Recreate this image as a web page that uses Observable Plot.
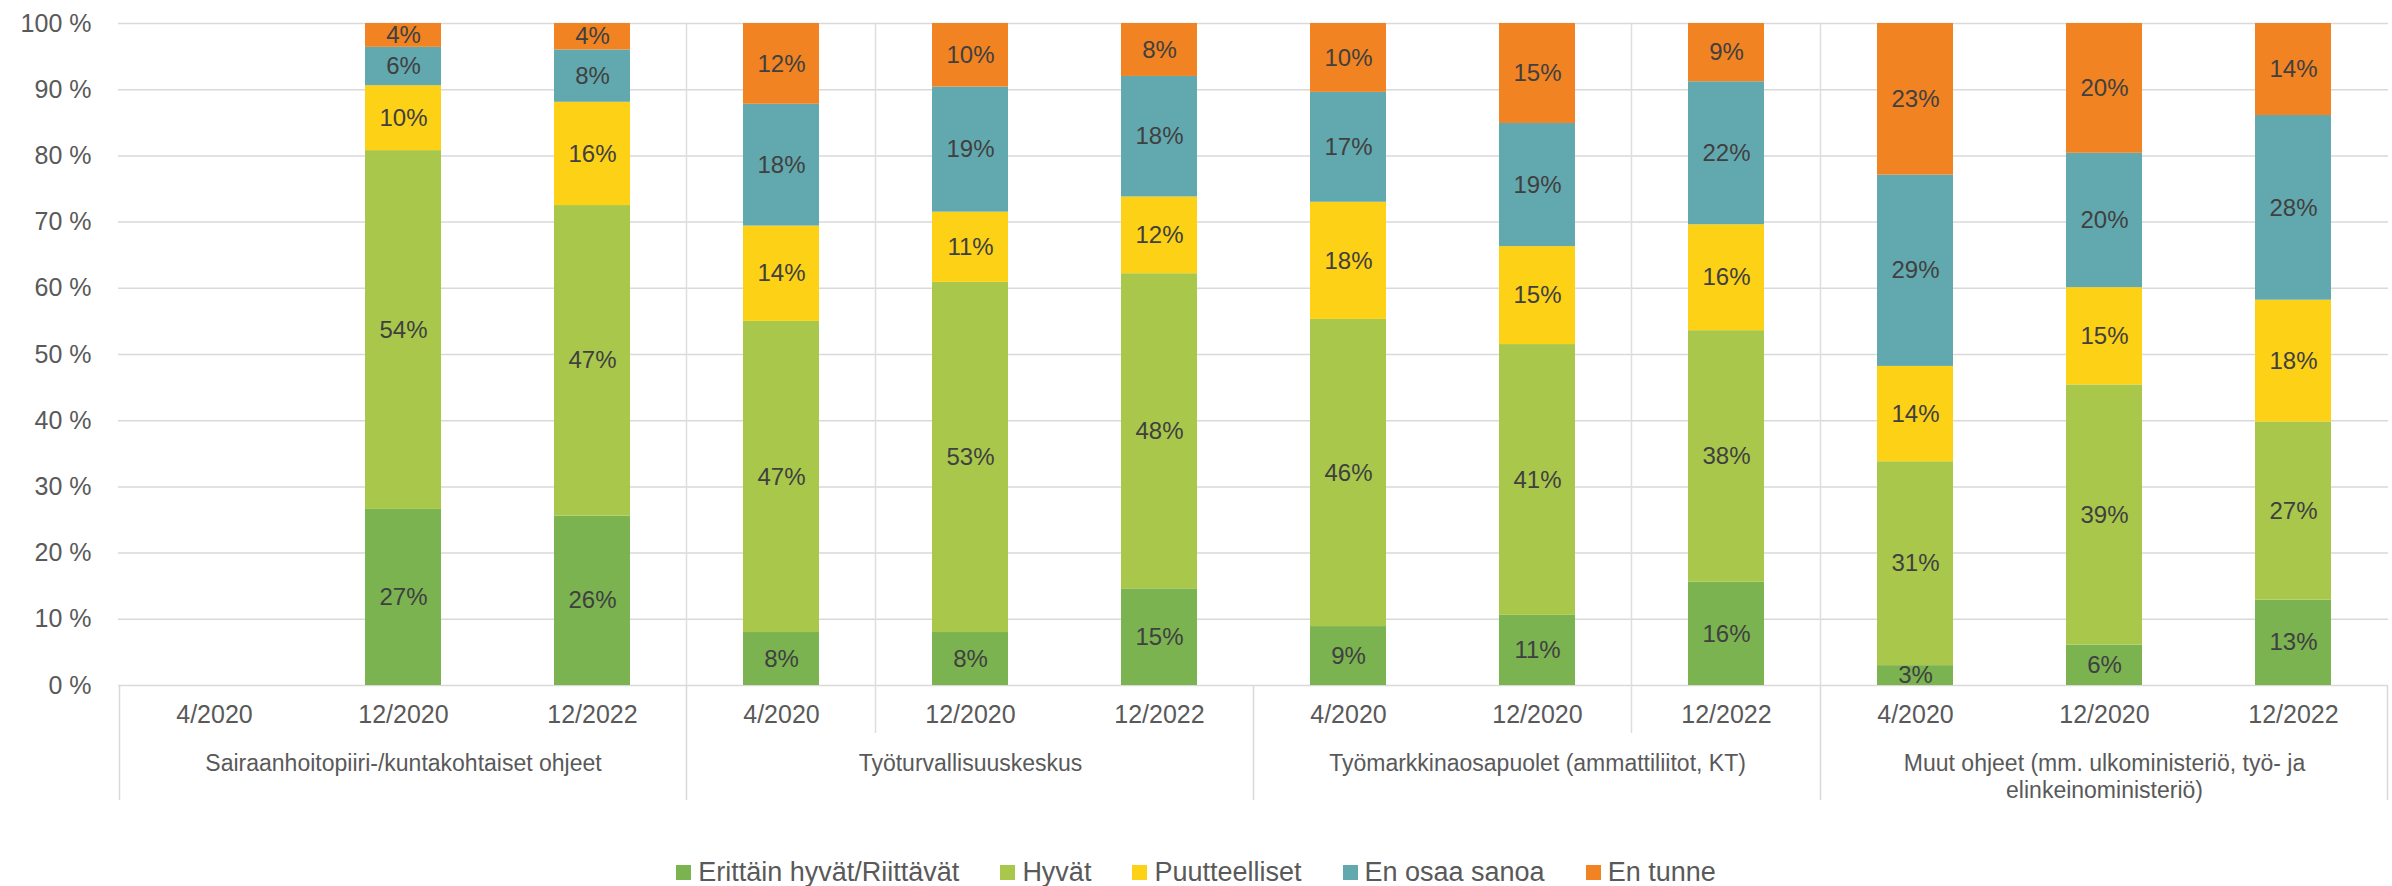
<!DOCTYPE html>
<html>
<head>
<meta charset="utf-8">
<script src="https://cdn.jsdelivr.net/npm/d3@7"></script>
<script src="https://cdn.jsdelivr.net/npm/@observablehq/plot@0.6"></script>
<style>
  html, body { margin: 0; padding: 0; background: #fff; overflow: hidden; }
  #chart { width: 2392px; }
  .legend { display: flex; justify-content: center; align-items: center; height: 44px;
    font-family: "Liberation Sans", Arial, sans-serif; font-size: 27px; color: #595959; }
  .legend .item { display: flex; align-items: center; margin-right: 41px; }
  .legend .item:last-child { margin-right: 0; }
  .legend .sw { width: 15px; height: 15px; margin-right: 7px; }
</style>
</head>
<body>
<div id="chart"></div>
<script>
// ---- data ----
const groups = [
  "Sairaanhoitopiiri-/kuntakohtaiset ohjeet",
  "Työturvallisuuskeskus",
  "Työmarkkinaosapuolet (ammattiliitot, KT)",
  "Muut ohjeet (mm. ulkoministeriö, työ- ja\nelinkeinoministeriö)"
];
const periods = ["4/2020", "12/2020", "12/2022"];
const series = ["Erittäin hyvät/Riittävät", "Hyvät", "Puutteelliset", "En osaa sanoa", "En tunne"];
const colors = ["#7AB350", "#A9C84B", "#FDD116", "#62A9AF", "#F28322"];

// values per slot: group-major, period-minor (12 slots)
const erittainHyvat = [null, 26.6, 25.6, 8.0, 8.0, 14.6, 8.9, 10.6, 15.6, 3.0, 6.1, 12.9];
const hyvat         = [null, 54.2, 46.9, 47.0, 52.9, 47.6, 46.4, 40.9, 38.0, 30.8, 39.3, 26.9];
const puutteelliset = [null, 9.8, 15.6, 14.4, 10.6, 11.6, 17.7, 14.8, 16.0, 14.4, 14.7, 18.4];
const enOsaaSanoa   = [null, 5.8, 7.9, 18.4, 18.9, 18.2, 16.6, 18.6, 21.6, 28.9, 20.3, 27.9];
const enTunne       = [null, 3.6, 4.0, 12.2, 9.6, 8.0, 10.4, 15.1, 8.8, 22.9, 19.6, 13.9];

const yTicks = [0, 10, 20, 30, 40, 50, 60, 70, 80, 90, 100];
// category-boundary indices used by the original chart's separators
const plotGridBoundaries = [3, 4, 8, 9];
const shortTickBoundaries = [4, 8];
const groupBoundaries = [0, 3, 6, 9, 12];

// ---- build table ----
const seriesValues = [erittainHyvat, hyvat, puutteelliset, enOsaaSanoa, enTunne];
const keys = groups.flatMap((g, gi) => periods.map(p => `${gi}|${p}`));
const rows = [];
series.forEach((s, si) => {
  seriesValues[si].forEach((v, i) => {
    if (v != null) rows.push({key: keys[i], series: s, value: v});
  });
});
const groupRows = groups.map((g, gi) => ({label: g, key: keys[gi * periods.length + 1]}));

const FONT = "'Liberation Sans', Arial, sans-serif";

function separators(index, scales) {
  const x = scales.x, y = scales.y;
  const bw = typeof x.bandwidth === "function" ? x.bandwidth() : x.bandwidth;
  const step = typeof x.step === "function" ? x.step() : (x(keys[1]) - x(keys[0]));
  const edge = i => i < keys.length
    ? x(keys[i]) + bw / 2 - step / 2
    : x(keys[keys.length - 1]) + bw / 2 + step / 2;
  const g = d3.create("svg:g");
  const y0 = y(0), y100 = y(100);
  plotGridBoundaries.forEach(i => g.append("line")
    .attr("x1", edge(i)).attr("x2", edge(i)).attr("y1", y100).attr("y2", y0)
    .attr("stroke", "#DEDEDE").attr("stroke-width", 1.5));
  shortTickBoundaries.forEach(i => g.append("line")
    .attr("x1", edge(i)).attr("x2", edge(i)).attr("y1", y0).attr("y2", y0 + 48)
    .attr("stroke", "#DEDEDE").attr("stroke-width", 1.5));
  groupBoundaries.forEach(i => g.append("line")
    .attr("x1", edge(i)).attr("x2", edge(i)).attr("y1", y0).attr("y2", y0 + 115)
    .attr("stroke", "#D9D9D9").attr("stroke-width", 1.5));
  return g.node();
}

const chart = Plot.plot({
  width: 2392,
  height: 850,
  marginLeft: 118,
  marginRight: 4,
  marginTop: 23,
  marginBottom: 165,
  style: {fontFamily: FONT, background: "#fff"},
  x: {domain: keys, paddingInner: 0.6, paddingOuter: 0.3, label: null},
  y: {domain: [0, 100], label: null},
  color: {domain: series, range: colors},
  marks: [
    Plot.gridY(yTicks, {stroke: "#D9D9D9", strokeOpacity: 1, strokeWidth: 1.5}),
    separators,
    Plot.barY(rows, {x: "key", y: "value", fill: "series"}),
    Plot.text(rows, Plot.stackY({
      x: "key", y: "value", z: "series",
      text: d => Math.round(d.value) + "%",
      fill: "#404040", fontSize: 24
    })),
    Plot.axisY({ticks: yTicks, tickFormat: d => d + " %", tickSize: 0, tickPadding: 27,
      fontSize: 25, color: "#595959", label: null}),
    Plot.axisX({tickFormat: d => d.split("|")[1], tickSize: 0, tickPadding: 20,
      fontSize: 25, color: "#595959", label: null}),
    Plot.text(groupRows, {x: "key", y: () => 0, text: "label", dy: 66, lineAnchor: "top",
      lineHeight: 1.17, fontSize: 23, fill: "#595959"})
  ]
});
document.getElementById("chart").appendChild(chart);

// ---- legend ----
const legend = d3.select("body").append("div").attr("class", "legend");
series.forEach((s, i) => {
  const it = legend.append("div").attr("class", "item");
  it.append("div").attr("class", "sw").style("background", colors[i]);
  it.append("span").text(s);
});
</script>
</body>
</html>
